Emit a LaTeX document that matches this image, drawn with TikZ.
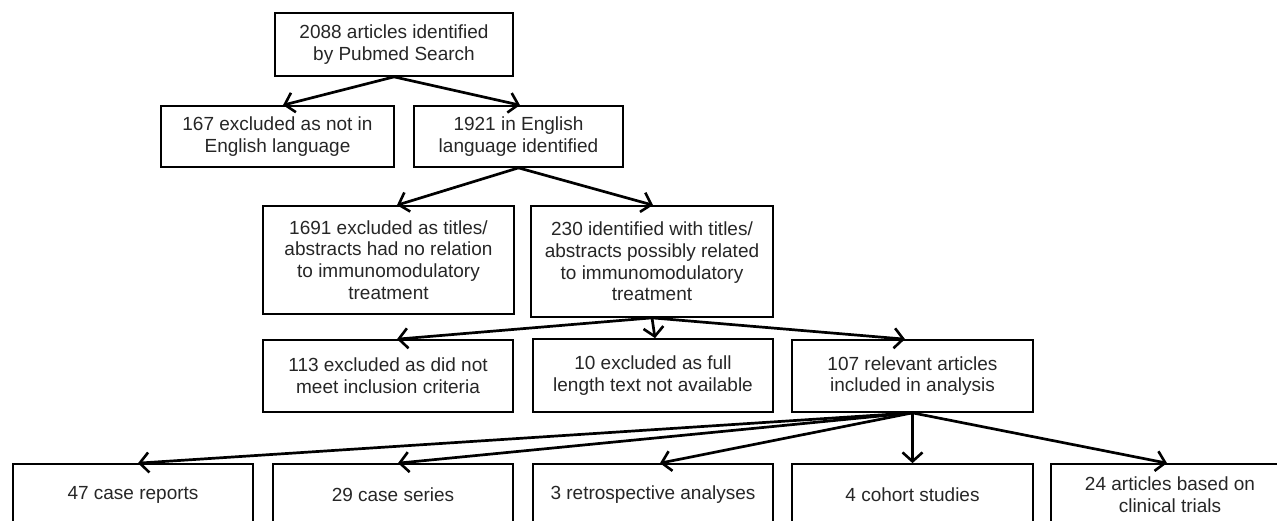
\documentclass[tikz,border=0pt]{standalone}
\usepackage{fontspec}
\setmainfont{Liberation Sans}
\usetikzlibrary{arrows.meta}
\tikzset{
  box/.style={draw=black, line width=1.7pt, rectangle, inner sep=0pt, align=center,
    font=\fontsize{19}{21.7}\selectfont, text=black!85},
  arr/.style={line width=2.7pt, -{Straight Barb[length=9pt,width=20pt,line width=2.6pt]}}
}
\begin{document}
\begin{tikzpicture}[x=1pt,y=-1pt]
\useasboundingbox (0,0) rectangle (1277,520);
\node[box, minimum width=238pt, minimum height=63pt] (top) at (394,44.5) {2088 articles identified\\by Pubmed Search};
\node[box, minimum width=233pt, minimum height=61pt] (b167) at (277.5,136.5) {167 excluded as not in\\English language};
\node[box, minimum width=209pt, minimum height=61pt] (b1921) at (518.5,136.5) {1921 in English\\language identified};
\node[box, minimum width=251pt, minimum height=108pt] (b1691) at (388.5,260) {1691 excluded as titles/\\abstracts had no relation\\to immunomodulatory\\treatment};
\node[box, minimum width=242pt, minimum height=111pt] (b230) at (652,261.5) {230 identified with titles/\\abstracts possibly related\\to immunomodulatory\\treatment};
\node[box, minimum width=250pt, minimum height=72pt] (b113) at (388,376) {113 excluded as did not\\meet inclusion criteria};
\node[box, minimum width=240pt, minimum height=73pt] (b10) at (653,375.5) {10 excluded as full\\length text not available};
\node[box, minimum width=241pt, minimum height=72pt] (b107) at (912.5,376) {107 relevant articles\\included in analysis};
\node[box, minimum width=240pt, minimum height=62pt] (b47) at (133,495) {47 case reports};
\node[box, minimum width=240pt, minimum height=62pt] (b29) at (393,495) {29 case series};
\node[box, minimum width=240pt, minimum height=62pt] (b3) at (653,495) {3 retrospective analyses};
\node[box, minimum width=241pt, minimum height=62pt] (b4) at (912.5,495) {4 cohort studies};
\node[box, minimum width=238pt, minimum height=62pt] (b24) at (1170,495) {24 articles based on\\clinical trials};

\draw[arr] (top.south) -- ([xshift=5.5pt]b167.north);
\draw[arr] (top.south) -- ([xshift=1.5pt]b1921.north);
\draw[arr] (b1921.south) -- ([xshift=8.5pt]b1691.north);
\draw[arr] (b1921.south) -- ([xshift=1pt]b230.north);
\draw[arr] (b230.south) -- ([xshift=9pt]b113.north);
\draw[arr] (b230.south) -- ([xshift=2pt]b10.north);
\draw[arr] (b230.south) -- ([xshift=-7.5pt]b107.north);
\draw[arr] (b107.south) -- ([xshift=5pt]b47.north);
\draw[arr] (b107.south) -- ([xshift=5pt]b29.north);
\draw[arr] (b107.south) -- ([xshift=7pt]b3.north);
\draw[arr] (b107.south) -- (b4.north);
\draw[arr] (b107.south) -- ([xshift=-3pt]b24.north);
\end{tikzpicture}
\end{document}
